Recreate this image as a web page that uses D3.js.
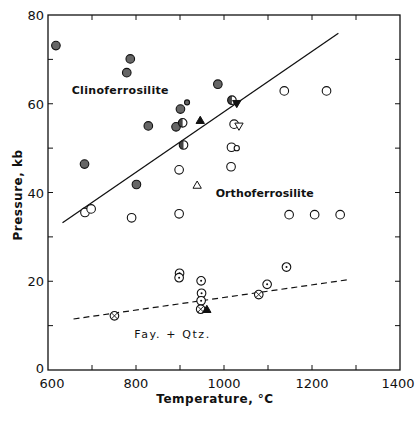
<!DOCTYPE html>
<html>
<head>
<meta charset="utf-8">
<script src="https://cdn.jsdelivr.net/npm/d3@7"></script>
<style>
  body { margin: 0; background: #fff; }
  svg text { font-family: "DejaVu Sans", sans-serif; fill: #111; }
</style>
</head>
<body>
<svg id="chart" width="420" height="421"></svg>
<script>
// data: [temperature °C, pressure kb]
var filledPts = [[618, 73.1], [787, 70.1], [779, 67.0], [828, 55.0], [891, 54.8],
    [901, 58.8], [986, 64.4], [683, 46.4], [801, 41.8]];
var smallFilledPts = [[916, 60.3]];
var halfPts = [[906, 55.7], [908, 50.7], [1018, 60.8]];
var openPts = [[898, 45.1], [1016, 45.8], [1023, 55.4], [1017, 50.2], [1137, 62.9],
    [1233, 62.9], [1148, 35.0], [1206, 35.0], [1264, 35.0], [684, 35.5],
    [698, 36.3], [790, 34.3], [898, 35.2]];
var smallOpenPts = [[1029, 50.0]];
var filledTriPts = [[946, 56.1], [961, 13.5]];
var filledDownTriPts = [[1029, 60.2]];
var openTriPts = [[939, 41.5]];
var openDownTriPts = [[1034, 55.1]];
var dotPts = [[899, 21.8], [898, 20.8], [948, 20.1], [949, 17.3], [948, 15.6],
    [1098, 19.3], [1142, 23.2]];
var crossPts = [[751, 12.2], [947, 13.7], [1079, 17.0]];
var boundary = [[633, 33.2], [1260, 75.9]];
var fayQtz = [[658, 11.5], [1286, 20.4]];

var xTicks = [600, 800, 1000, 1200, 1400];
var yTicks = [0, 20, 40, 60, 80];

var svg = d3.select("svg#chart"),
    margin = { top: 15, right: 20, bottom: 51, left: 48 },
    width = svg.attr("width") - margin.left - margin.right,
    height = svg.attr("height") - margin.top - margin.bottom,
    g = svg.append("g")
        .attr("transform", "translate(" + margin.left + "," + margin.top + ")");

var x = d3.scaleLinear().domain([600, 1400]).range([0, width]);
var y = d3.scaleLinear().domain([0, 80]).range([height, 0]);

// frame + inward ticks on all four sides
g.append("rect")
    .attr("width", width)
    .attr("height", height)
    .attr("fill", "none")
    .attr("stroke", "#111")
    .attr("stroke-width", 1.3);

var minorX = d3.range(700, 1400, 100),
    minorY = d3.range(10, 80, 10);
var tk = 5;

g.selectAll(".tb").data(minorX).enter().append("line")
    .attr("x1", d => x(d)).attr("x2", d => x(d))
    .attr("y1", height).attr("y2", height - tk)
    .attr("stroke", "#111");
g.selectAll(".tt").data(minorX).enter().append("line")
    .attr("x1", d => x(d)).attr("x2", d => x(d))
    .attr("y1", 0).attr("y2", tk)
    .attr("stroke", "#111");
g.selectAll(".tl").data(minorY).enter().append("line")
    .attr("x1", 0).attr("x2", tk)
    .attr("y1", d => y(d)).attr("y2", d => y(d))
    .attr("stroke", "#111");
g.selectAll(".tr").data(minorY).enter().append("line")
    .attr("x1", width).attr("x2", width - tk)
    .attr("y1", d => y(d)).attr("y2", d => y(d))
    .attr("stroke", "#111");

g.selectAll(".xl").data(xTicks).enter().append("text")
    .attr("x", d => x(d) + (d === 600 ? 4 : d === 1400 ? -2 : 0))
    .attr("y", height + 18)
    .attr("text-anchor", "middle")
    .style("font-size", "13px")
    .text(d => d);

g.selectAll(".yl").data(yTicks).enter().append("text")
    .attr("x", -4)
    .attr("y", d => y(d) + (d === 0 ? 3 : 5))
    .attr("text-anchor", "end")
    .style("font-size", "13px")
    .text(d => d);

g.append("text")
    .attr("x", 167)
    .attr("y", height + 33)
    .attr("text-anchor", "middle")
    .style("font-size", "12px")
    .style("font-weight", "bold")
    .style("letter-spacing", "0.5px")
    .text("Temperature, \u00B0C");

g.append("text")
    .attr("transform", "translate(-26," + 180 + ") rotate(-90)")
    .attr("text-anchor", "middle")
    .style("font-size", "12px")
    .style("font-weight", "bold")
    .style("letter-spacing", "0.5px")
    .text("Pressure, kb");

// phase labels
g.append("text")
    .attr("x", x(654))
    .attr("y", y(62.3))
    .style("font-size", "11px")
    .style("font-weight", "bold")
    .style("letter-spacing", "0.3px")
    .text("Clinoferrosilite");
g.append("text")
    .attr("x", x(981))
    .attr("y", y(39))
    .style("font-size", "11px")
    .style("font-weight", "bold")
    .style("letter-spacing", "0.1px")
    .text("Orthoferrosilite");
g.append("text")
    .attr("x", x(796))
    .attr("y", y(7.1))
    .style("font-size", "11px")
    .style("letter-spacing", "1.6px")
    .text("Fay. + Qtz.");

// reaction lines
var line = d3.line().x(d => x(d[0])).y(d => y(d[1]));
g.append("path")
    .attr("d", line(boundary))
    .attr("fill", "none")
    .attr("stroke", "#111")
    .attr("stroke-width", 1.3);
g.append("path")
    .attr("d", line(fayQtz))
    .attr("fill", "none")
    .attr("stroke", "#111")
    .attr("stroke-width", 1.2)
    .attr("stroke-dasharray", "6,4");

var r = 4.3;

function circles(data, rad, fill) {
    return g.append("g").selectAll("circle")
        .data(data)
        .enter()
        .append("circle")
        .attr("cx", d => x(d[0]))
        .attr("cy", d => y(d[1]))
        .attr("r", rad)
        .attr("fill", fill)
        .attr("stroke", "#111")
        .attr("stroke-width", 1.1);
}

circles(openPts, r, "#fff");
circles(smallOpenPts, 2.6, "#fff");
circles(filledPts, r, "#666");
circles(smallFilledPts, 2.5, "#666");

// half filled circles
var half = g.append("g").selectAll("g")
    .data(halfPts)
    .enter()
    .append("g")
    .attr("transform", d => "translate(" + x(d[0]) + "," + y(d[1]) + ")");
half.append("circle").attr("r", r).attr("fill", "#fff");
half.append("path")
    .attr("d", "M0," + (-r) + "A" + r + "," + r + " 0 0,0 0," + r + "Z")
    .attr("fill", "#444");
half.append("circle").attr("r", r).attr("fill", "none")
    .attr("stroke", "#111").attr("stroke-width", 1.1);

// circles with center dot
var dots = g.append("g").selectAll("g")
    .data(dotPts)
    .enter()
    .append("g")
    .attr("transform", d => "translate(" + x(d[0]) + "," + y(d[1]) + ")");
dots.append("circle").attr("r", r).attr("fill", "#fff")
    .attr("stroke", "#111").attr("stroke-width", 1.1);
dots.append("circle").attr("r", 1).attr("fill", "#111");

// crossed circles
var cross = g.append("g").selectAll("g")
    .data(crossPts)
    .enter()
    .append("g")
    .attr("transform", d => "translate(" + x(d[0]) + "," + y(d[1]) + ")");
cross.append("circle").attr("r", r).attr("fill", "#fff")
    .attr("stroke", "#111").attr("stroke-width", 1.1);
cross.append("path")
    .attr("d", "M-2.8,-2.8L2.8,2.8M-2.8,2.8L2.8,-2.8")
    .attr("stroke", "#111").attr("stroke-width", 0.9);

// triangles
var tri = d3.symbol().type(d3.symbolTriangle).size(30);
function triangles(data, fill, down) {
    g.append("g").selectAll("path")
        .data(data)
        .enter()
        .append("path")
        .attr("d", tri)
        .attr("transform", d => "translate(" + x(d[0]) + "," + y(d[1]) + ")" + (down ? " rotate(180)" : ""))
        .attr("fill", fill)
        .attr("stroke", "#111")
        .attr("stroke-width", 1);
}
triangles(filledTriPts, "#111", false);
triangles(filledDownTriPts, "#111", true);
triangles(openTriPts, "#fff", false);
triangles(openDownTriPts, "#fff", true);
</script>
</body>
</html>
